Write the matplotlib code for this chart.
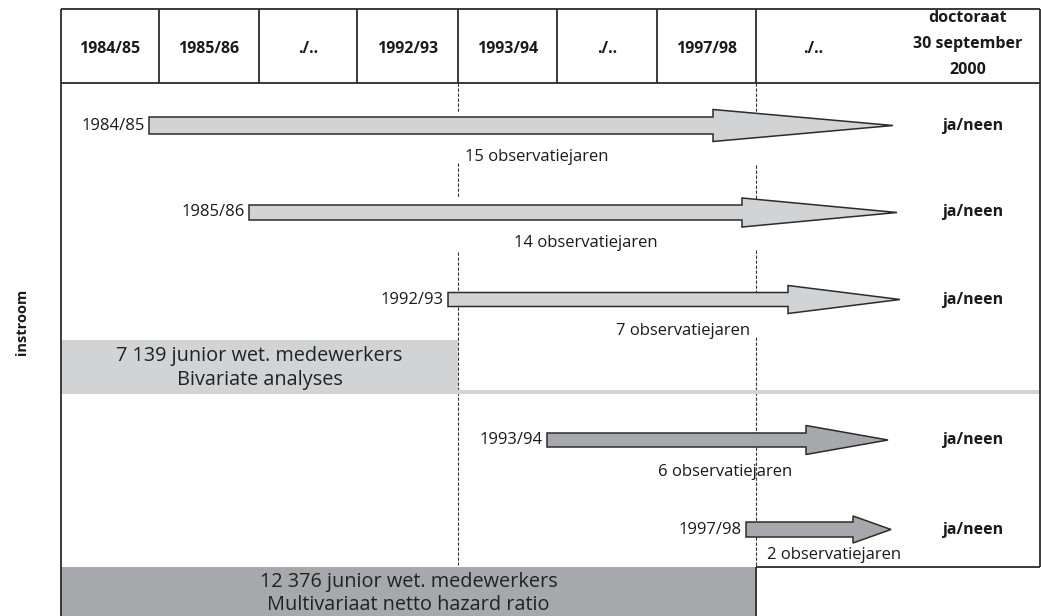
import matplotlib
matplotlib.use("Agg")
import matplotlib.pyplot as plt
from matplotlib.patches import Rectangle, Polygon

plt.rcParams['font.family'] = ['Open Sans', 'DejaVu Sans']

# ---------------- data ----------------
header_labels = ['1984/85', '1985/86', './..', '1992/93', '1993/94', './..', '1997/98', './..']
final_header = ['doctoraat', '30 september', '2000']
cohorts = ['1984/85', '1985/86', '1992/93', '1993/94', '1997/98']
obs_years = [15, 14, 7, 6, 2]
outcome = 'ja/neen'
side_label = 'instroom'
group1_text = '7 139 junior wet. medewerkers\nBivariate analyses'
group2_text = '12 376 junior wet. medewerkers\nMultivariaat netto hazard ratio'

# ---------------- layout (pixel space) ----------------
W, H = 1041, 616
col_edges = [61, 159, 259, 357, 458, 557, 657, 756, 1040]
top, head_bot, frame_bot = 9, 83, 567
cohort_col = [1, 2, 4, 5, 7]          # column edge where each cohort starts
head_base = [713, 742, 788, 806, 853]
tip_x = [893, 897, 900, 888, 891]
row_y = [125.5, 212.5, 299.5, 440, 529.5]
shaft_half = [8.5, 7.5, 7, 7, 7.5]
head_half = [16, 14.5, 14, 14.5, 13.5]
cohort_fill = ['#d2d3d5', '#d2d3d5', '#d2d3d5', '#a7a8ab', '#a7a8ab']
obs_pos = [(465, 157, 'left'), (514, 243, 'left'), (750, 331, 'right'),
           (658, 472, 'left'), (767, 555, 'left')]
final_base = [21.5, 47.5, 73.5]
edge = '#2b2b2b'
light, dark = '#d2d3d5', '#a7a8ab'
fs_lab, fs_head, fs_box = 12.0, 11.5, 14.3

fig = plt.figure(figsize=(W / 100, H / 100), dpi=100)
ax = fig.add_axes([0, 0, 1, 1])
ax.set_xlim(0, W)
ax.set_ylim(H, 0)
ax.axis('off')

# dashed guides
dash_kw = dict(color='#333333', lw=0.8, linestyle=(0, (3, 1.5)), zorder=1)
for x, segs in [(458, [(83, 113), (163, 198), (252, 565)]),
                (756, [(83, 113), (165, 200), (250, 297), (337, 567)])]:
    for y0, y1 in segs:
        ax.plot([x, x], [y0, y1], **dash_kw)

# grey group boxes
ax.add_patch(Rectangle((61, 340), 458 - 61, 394 - 340, facecolor=light, edgecolor='none', zorder=2))
ax.plot([458, 1040], [392, 392], color=light, lw=3, zorder=2, solid_capstyle='butt')
ax.add_patch(Rectangle((61, frame_bot), 756 - 61, H - frame_bot, facecolor=dark, edgecolor='none', zorder=2))

# frame
fk = dict(color=edge, lw=1.3, zorder=5, solid_capstyle='butt')
ax.plot([61, 1040], [top, top], **fk)
ax.plot([61, 1040], [head_bot, head_bot], **fk)
ax.plot([61, 61], [top, H], **fk)
ax.plot([1040, 1040], [top, frame_bot], **fk)
ax.plot([756, 1040], [frame_bot, frame_bot], **fk)
ax.plot([756, 756], [frame_bot, H], **fk)
for x in col_edges[1:-1]:
    ax.plot([x, x], [top, head_bot], **fk)

# header text
hk = dict(fontsize=fs_head, fontweight='bold', color='#1a1a1a', ha='center')
for i, lab in enumerate(header_labels):
    if i < len(header_labels) - 1:
        xc = (col_edges[i] + col_edges[i + 1]) / 2
    else:
        xc = 813
    ax.text(xc, 53, lab, va='baseline', **hk)
for lab, y in zip(final_header, final_base):
    ax.text(968, y, lab, va='baseline', **hk)

# arrows
for i, lab in enumerate(cohorts):
    x0 = col_edges[cohort_col[i]] - 10
    y = row_y[i]
    s, h = shaft_half[i], head_half[i]
    pts = [(x0, y - s), (head_base[i], y - s), (head_base[i], y - h), (tip_x[i], y),
           (head_base[i], y + h), (head_base[i], y + s), (x0, y + s)]
    ax.add_patch(Polygon(pts, closed=True, facecolor=cohort_fill[i], edgecolor=edge,
                         lw=1.1, joinstyle='miter', zorder=4))
    ax.text(x0 - 4, y, lab, fontsize=fs_lab, color='#1a1a1a', ha='right', va='center', zorder=6)
    ax.text(973, y, outcome, fontsize=fs_head, fontweight='bold', color='#1a1a1a',
            ha='center', va='center', zorder=6)
    ox, oy, oha = obs_pos[i]
    ax.text(ox, oy, f'{obs_years[i]} observatiejaren', fontsize=fs_lab, color='#1a1a1a',
            ha=oha, va='center', zorder=6)

# group texts
ax.text((61 + 458) / 2, 368, group1_text, fontsize=fs_box, color='#222222', ha='center',
        va='center', linespacing=1.2, zorder=6)
ax.text((61 + 756) / 2, 594, group2_text, fontsize=fs_box, color='#222222', ha='center',
        va='center', linespacing=1.2, zorder=6)

ax.text(22, 322, side_label, fontsize=10.5, fontweight='bold', rotation=90, color='#1a1a1a',
        ha='center', va='center')

fig.savefig('out.png', dpi=100)
